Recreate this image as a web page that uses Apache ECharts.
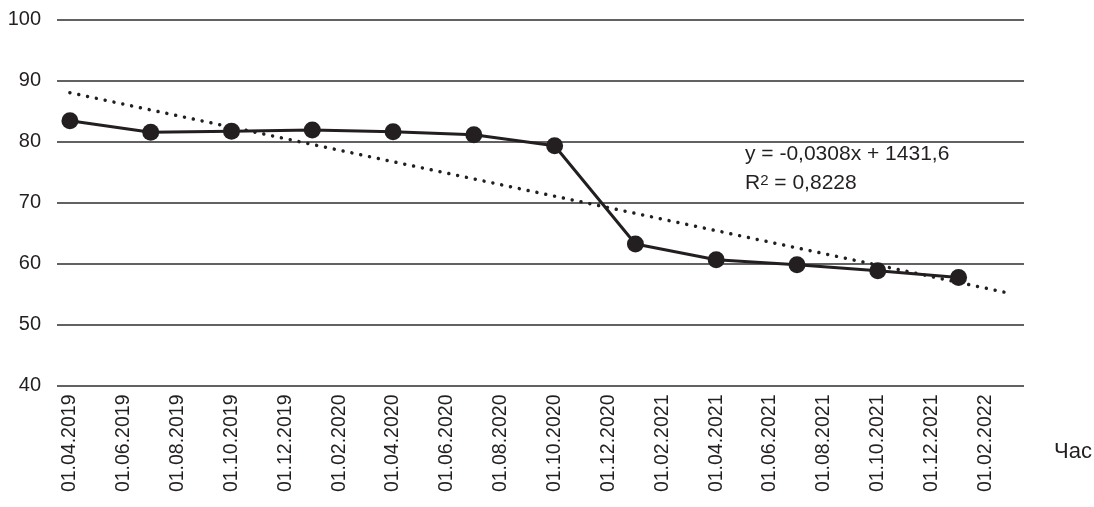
<!DOCTYPE html>
<html>
<head>
<meta charset="utf-8">
<script src="https://cdn.jsdelivr.net/npm/echarts@6/dist/echarts.min.js"></script>
<style>html,body{margin:0;padding:0;background:#fff}#c{width:1094px;height:507px}</style>
</head>
<body>
<div id="c"></div>
<script>
// ---- data ----
const pointDates = ['01.04.2019','01.07.2019','01.10.2019','01.01.2020','01.04.2020','01.07.2020','01.10.2020','01.01.2021','01.04.2021','01.07.2021','01.10.2021','01.01.2022'];
const pointValues = [83.4, 81.5, 81.7, 81.9, 81.6, 81.1, 79.3, 63.2, 60.6, 59.8, 58.8, 57.7];
const trendDates = ['01.04.2019', '22.02.2022'];
const trendValues = [88.0, 55.3];
const tickLabels = ['01.04.2019','01.06.2019','01.08.2019','01.10.2019','01.12.2019','01.02.2020','01.04.2020','01.06.2020','01.08.2020','01.10.2020','01.12.2020','01.02.2021','01.04.2021','01.06.2021','01.08.2021','01.10.2021','01.12.2021','01.02.2022'];
const yTicks = [40, 50, 60, 70, 80, 90, 100];
const axisName = 'Час';
const eqLine1 = 'y = -0,0308x + 1431,6';
const eqLine2R = 'R';
const eqLine2Sup = '2';
const eqLine2Rest = ' = 0,8228';

// month index relative to 01.04.2019
function mIdx(s) {
  const [d, m, y] = s.split('.').map(Number);
  return (y - 2019) * 12 + (m - 4) + (d - 1) / 30;
}
const labelMap = {};
tickLabels.forEach(t => { labelMap[Math.round(mIdx(t))] = t; });

const FONT = '"Liberation Sans", Arial, sans-serif';
const TXT = '#231f20';

const chart = echarts.init(document.getElementById('c'), null, {renderer: 'canvas'});
chart.setOption({
  animation: false,
  backgroundColor: '#fff',
  grid: {left: 57, right: 70, top: 19.5, bottom: 121.5, containLabel: false, outerBoundsMode: 'none'},
  xAxis: {
    type: 'value',
    min: -0.48,
    max: 35.43,
    axisLine: {show: false},
    axisTick: {show: false},
    splitLine: {show: false},
    axisLabel: {
      customValues: tickLabels.map(t => Math.round(mIdx(t))),
      formatter: v => labelMap[Math.round(v)] || '',
      rotate: 90,
      margin: 9,
      fontFamily: FONT,
      fontSize: 19.5,
      color: TXT
    }
  },
  yAxis: {
    type: 'value',
    min: yTicks[0],
    max: yTicks[yTicks.length - 1],
    interval: 10,
    axisLine: {show: false},
    axisTick: {show: false},
    splitLine: {show: true, lineStyle: {color: '#2e2e2e', width: 1.5}},
    axisLabel: {margin: 16, fontFamily: FONT, fontSize: 20, color: TXT}
  },
  series: [
    {
      type: 'line',
      data: trendDates.map((d, i) => [mIdx(d), trendValues[i]]),
      symbol: 'none',
      lineStyle: {color: '#231f20', width: 3.5, type: [0.01, 9], cap: 'round'},
      z: 2
    },
    {
      type: 'line',
      data: pointDates.map((d, i) => [mIdx(d), pointValues[i]]),
      symbol: 'circle',
      symbolSize: 17,
      itemStyle: {color: '#231f20'},
      lineStyle: {color: '#231f20', width: 3},
      z: 3
    }
  ],
  graphic: [
    {
      type: 'text',
      left: 745,
      top: 143.5,
      z: 10,
      style: {
        text: '{a|' + eqLine1 + '}\n{a|' + eqLine2R + '}{s|' + eqLine2Sup + '}{a|' + eqLine2Rest + '}',
        rich: {
          a: {fontFamily: FONT, fontSize: 21, fill: TXT, lineHeight: 29},
          s: {fontFamily: FONT, fontSize: 15, fill: TXT, lineHeight: 29, padding: [0, 0, 5, 0]}
        }
      }
    },
    {
      type: 'text',
      left: 1054,
      top: 441,
      z: 10,
      style: {
        text: axisName,
        fontFamily: FONT,
        fontSize: 22,
        fill: TXT,
        verticalAlign: 'middle'
      }
    }
  ]
});
</script>
</body>
</html>
